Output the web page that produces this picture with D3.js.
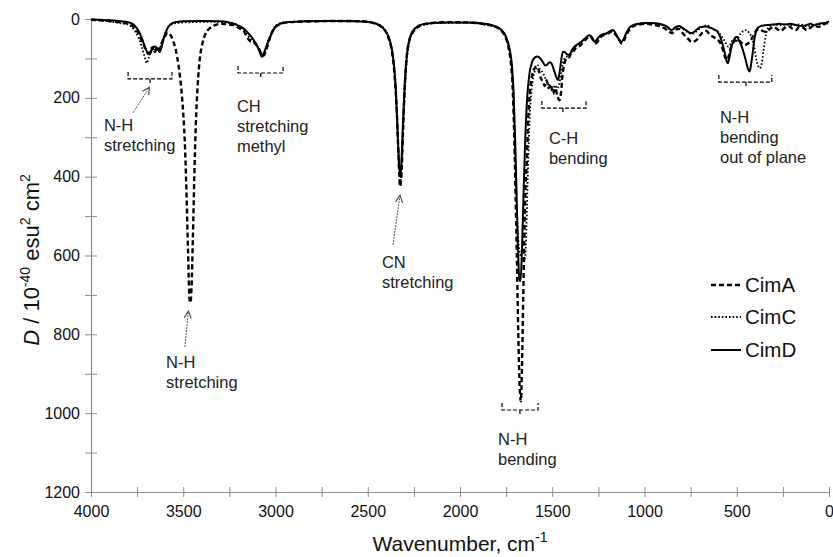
<!DOCTYPE html>
<html>
<head>
<meta charset="utf-8">
<script src="https://cdn.jsdelivr.net/npm/d3@7"></script>
<style>
  body { margin: 0; background: #fff; }
  svg { font-family: "Liberation Sans", Arial, sans-serif; }
</style>
</head>
<body>
<script>
/* Data: [wavenumber (cm-1), D (10^-40 esu^2 cm^2)] */
const cimA = [[4000,2],[3950,3],[3900,5],[3850,8],[3800,12],[3770,20],[3745,35],[3725,55],[3705,75],[3690,88],[3678,80],[3668,72],[3655,85],[3642,70],[3630,78],[3618,62],[3600,45],[3585,35],[3570,40],[3555,55],[3540,80],[3525,120],[3510,180],[3500,240],[3490,330],[3482,450],[3474,590],[3466,710],[3461,720],[3455,680],[3448,560],[3440,400],[3432,270],[3422,170],[3410,100],[3395,60],[3380,38],[3360,25],[3330,16],[3290,12],[3250,14],[3215,18],[3190,25],[3170,32],[3155,45],[3140,55],[3120,58],[3105,65],[3090,75],[3075,90],[3065,93],[3050,78],[3035,55],[3020,35],[3000,20],[2970,12],[2920,8],[2800,6],[2650,5],[2520,6],[2460,12],[2420,22],[2390,45],[2370,80],[2355,140],[2342,240],[2333,350],[2325,425],[2318,400],[2310,300],[2300,180],[2290,100],[2275,55],[2250,30],[2210,16],[2150,10],[2050,8],[1950,9],[1880,12],[1820,18],[1780,28],[1755,45],[1738,70],[1725,110],[1715,170],[1707,280],[1700,420],[1692,600],[1684,800],[1676,940],[1670,970],[1664,880],[1657,700],[1650,520],[1644,420],[1638,360],[1630,250],[1620,180],[1608,140],[1595,125],[1585,120],[1575,128],[1562,150],[1550,160],[1540,170],[1530,155],[1520,175],[1508,165],[1496,190],[1484,175],[1472,195],[1462,206],[1452,185],[1444,140],[1435,115],[1422,100],[1410,98],[1398,88],[1385,82],[1370,72],[1350,68],[1330,58],[1310,48],[1295,44],[1280,52],[1265,62],[1250,55],[1235,45],[1215,40],[1195,36],[1175,32],[1160,38],[1140,50],[1125,62],[1112,55],[1095,38],[1078,25],[1060,18],[1030,14],[1000,12],[960,14],[920,18],[890,24],[865,33],[850,36],[835,28],[815,25],[795,35],[775,45],[760,52],[745,58],[730,57],[715,52],[700,42],[685,34],[665,30],[645,40],[625,46],[605,52],[590,60],[575,78],[562,98],[552,104],[542,92],[530,70],[515,58],[500,52],[485,56],[470,62],[455,66],[440,62],[425,55],[410,42],[395,30],[380,26],[360,30],[340,33],[320,25],[300,20],[280,26],[260,30],[240,22],[220,18],[200,24],[180,28],[160,20],[140,22],[120,28],[100,22],[80,16],[60,20],[40,18],[20,12],[0,10]];

const cimC = [[4000,2],[3950,4],[3900,6],[3850,10],[3800,14],[3770,25],[3745,45],[3725,70],[3710,95],[3698,112],[3688,100],[3678,82],[3668,74],[3655,84],[3642,72],[3630,80],[3618,62],[3600,38],[3585,22],[3565,14],[3530,10],[3450,8],[3350,7],[3250,10],[3210,14],[3185,22],[3165,30],[3145,45],[3125,55],[3105,62],[3088,78],[3072,92],[3058,80],[3040,56],[3022,35],[3000,18],[2970,10],[2900,7],[2750,5],[2600,5],[2500,7],[2450,12],[2410,25],[2385,50],[2365,90],[2350,160],[2340,260],[2332,360],[2324,412],[2316,380],[2308,280],[2298,170],[2285,90],[2270,50],[2245,28],[2200,15],[2100,10],[1950,10],[1870,14],[1810,20],[1775,30],[1750,48],[1735,75],[1722,115],[1712,190],[1703,320],[1694,460],[1684,560],[1672,600],[1660,610],[1650,615],[1642,560],[1634,420],[1625,280],[1614,190],[1602,145],[1590,128],[1578,118],[1566,128],[1552,135],[1538,150],[1524,165],[1510,172],[1497,180],[1485,168],[1474,176],[1464,168],[1452,140],[1442,112],[1430,98],[1418,95],[1405,90],[1390,80],[1375,70],[1355,64],[1335,56],[1315,46],[1298,42],[1282,50],[1268,58],[1252,50],[1235,42],[1210,38],[1190,34],[1172,30],[1155,40],[1138,52],[1124,58],[1110,48],[1092,30],[1075,20],[1055,14],[1020,11],[980,11],[930,13],[890,18],[865,26],[850,30],[835,22],[810,20],[785,28],[765,34],[745,38],[725,34],[705,26],[685,20],[660,16],[640,22],[620,28],[600,32],[585,42],[570,52],[558,62],[545,70],[532,62],[518,52],[505,58],[492,48],[478,36],[462,30],[448,28],[432,36],[418,48],[405,72],[395,100],[385,118],[377,125],[370,122],[364,112],[355,80],[345,48],[335,28],[320,18],[300,14],[270,16],[240,14],[200,16],[160,14],[120,18],[80,14],[40,12],[0,8]];

const cimD = [[4000,1],[3950,2],[3900,3],[3850,5],[3800,8],[3770,14],[3745,28],[3725,48],[3708,70],[3695,84],[3685,90],[3676,86],[3666,72],[3652,70],[3640,76],[3628,84],[3618,72],[3605,48],[3590,28],[3572,15],[3550,9],[3500,6],[3400,5],[3300,6],[3240,10],[3205,16],[3180,22],[3160,30],[3140,40],[3120,52],[3100,68],[3085,85],[3074,96],[3064,88],[3050,70],[3035,52],[3020,36],[3000,20],[2975,12],[2940,8],[2850,6],[2700,5],[2560,6],[2480,9],[2440,15],[2405,30],[2380,55],[2362,100],[2348,180],[2338,290],[2330,370],[2323,400],[2316,350],[2308,250],[2298,150],[2285,80],[2268,42],[2240,22],[2200,13],[2100,9],[1950,9],[1870,12],[1810,18],[1775,28],[1750,45],[1733,72],[1720,110],[1710,180],[1702,290],[1694,430],[1686,580],[1678,660],[1672,665],[1665,600],[1656,450],[1646,300],[1636,200],[1624,140],[1610,110],[1595,98],[1580,95],[1565,100],[1550,110],[1538,118],[1528,116],[1515,110],[1505,112],[1492,128],[1480,145],[1469,155],[1460,135],[1450,100],[1442,83],[1432,84],[1420,90],[1406,91],[1395,80],[1380,70],[1362,64],[1342,58],[1320,48],[1300,41],[1285,46],[1270,58],[1258,52],[1240,42],[1220,38],[1205,36],[1185,30],[1170,28],[1155,38],[1138,52],[1125,58],[1112,50],[1095,32],[1078,20],[1060,15],[1030,12],[1000,10],[960,10],[920,12],[890,16],[870,22],[855,28],[845,26],[830,20],[810,18],[790,24],[770,30],[750,36],[735,34],[715,26],[695,20],[665,19],[645,22],[625,26],[605,32],[590,45],[578,62],[568,80],[560,96],[553,110],[548,112],[541,100],[532,78],[522,60],[510,48],[500,45],[490,52],[478,64],[466,80],[455,98],[446,115],[438,128],[432,133],[426,126],[420,108],[412,80],[404,50],[396,32],[385,22],[370,18],[350,16],[330,15],[300,14],[270,12],[240,14],[210,12],[180,15],[150,18],[120,15],[100,12],[80,16],[60,13],[40,11],[20,10],[0,6]];

const seriesNames = ["CimA", "CimC", "CimD"];
const xTicks = [4000, 3500, 3000, 2500, 2000, 1500, 1000, 500, 0];
const yTicks = [0, 200, 400, 600, 800, 1000, 1200];

/* Annotations, placed in data units (wavenumber, D) */
const brackets = [
  { w1: 3799, w2: 3561, mid: 3680, d: 152 },
  { w1: 3203, w2: 2959, mid: 3080, d: 137 },
  { w1: 1772, w2: 1577, mid: 1675, d: 992 },
  { w1: 1556, w2: 1317, mid: 1442, d: 226 },
  { w1: 597, w2: 310, mid: 450, d: 160 }
];
const labels = [
  { w: 3930, d: 284, lines: ["N-H", "stretching"] },
  { w: 3209, d: 236, lines: ["CH", "stretching", "methyl"] },
  { w: 3593, d: 885, lines: ["N-H", "stretching"] },
  { w: 2423, d: 632, lines: ["CN", "stretching"] },
  { w: 1794, d: 1081, lines: ["N-H", "bending"] },
  { w: 1518, d: 317, lines: ["C-H", "bending"] },
  { w: 591, d: 264, lines: ["N-H", "bending", "out of plane"] }
];
const arrows = [
  { w0: 3772, d0: 238, w1: 3683, d1: 173 },
  { w0: 3491, d0: 832, w1: 3472, d1: 741 },
  { w0: 2363, d0: 573, w1: 2325, d1: 447 }
];

/* Constants */
const w = 833;
const h = 557;
const padL = 91, padR = 829, padT = 19, padB = 492;

const svg = d3.select("body").append("svg")
  .attr("width", w)
  .attr("height", h);

const xScale = d3.scaleLinear().domain([4000, 0]).range([padL, padR]);
const yScale = d3.scaleLinear().domain([0, 1200]).range([padT, padB]);

/* Axes */
const xAxis = d3.axisBottom(xScale).tickValues(d3.range(4000, -1, -250))
  .tickFormat(d => xTicks.includes(d) ? d : "").tickSize(0).tickPadding(14);
const yAxis = d3.axisLeft(yScale).tickValues(d3.range(0, 1201, 100))
  .tickFormat(d => yTicks.includes(d) ? d : "").tickSize(0).tickPadding(11);

const gx = svg.append("g").attr("transform", "translate(0," + padB + ")").call(xAxis);
const gy = svg.append("g").attr("transform", "translate(" + padL + ",0)").call(yAxis);

[gx, gy].forEach(g => {
  g.select(".domain").attr("stroke", "#8c8c8c").attr("stroke-width", 1.2);
  g.selectAll(".tick text").attr("font-size", 16).attr("fill", "#111")
    .attr("font-family", "Liberation Sans, Arial, sans-serif");
  g.selectAll(".tick line").attr("stroke", "#8c8c8c");
});
gx.selectAll(".tick line").attr("y1", -5).attr("y2", 5);
gy.selectAll(".tick line").attr("x1", -6).attr("x2", 6);

/* Axis titles */
svg.append("text")
  .attr("x", (padL + padR) / 2)
  .attr("y", 551)
  .attr("text-anchor", "middle")
  .attr("font-size", 21)
  .attr("fill", "#111")
  .call(t => {
    t.append("tspan").text("Wavenumber, cm");
    t.append("tspan").attr("dy", -9).attr("font-size", 14).text("-1");
  });

svg.append("text")
  .attr("transform", "translate(39," + 260 + ") rotate(-90)")
  .attr("text-anchor", "middle")
  .attr("font-size", 22)
  .attr("fill", "#111")
  .call(t => {
    t.append("tspan").attr("font-style", "italic").text("D");
    t.append("tspan").text(" / 10");
    t.append("tspan").attr("dy", -9).attr("font-size", 14).text("-40");
    t.append("tspan").attr("dy", 9).text(" esu");
    t.append("tspan").attr("dy", -9).attr("font-size", 14).text("2");
    t.append("tspan").attr("dy", 9).text(" cm");
    t.append("tspan").attr("dy", -9).attr("font-size", 14).text("2");
  });

/* Lines */
const line = d3.line()
  .x(d => xScale(d[0]))
  .y(d => yScale(d[1]))
  .curve(d3.curveMonotoneX);

const styles = {
  CimA: { dash: "5,3", width: 2.4 },
  CimC: { dash: "1.6,2", width: 1.8 },
  CimD: { dash: null, width: 2 }
};
const allData = { CimA: cimA, CimC: cimC, CimD: cimD };

seriesNames.forEach(name => {
  svg.append("path")
    .datum(allData[name])
    .attr("d", line)
    .attr("fill", "none")
    .attr("stroke", "#000")
    .attr("stroke-width", styles[name].width)
    .attr("stroke-dasharray", styles[name].dash);
});

/* Brackets */
brackets.forEach(b => {
  const x1 = xScale(b.w1), x2 = xScale(b.w2), xm = xScale(b.mid), y = yScale(b.d);
  svg.append("path")
    .attr("d", "M" + x1 + "," + (y - 7) + "V" + y + "H" + x2 + "V" + (y - 7) +
      "M" + xm + "," + y + "v6")
    .attr("fill", "none")
    .attr("stroke", "#000")
    .attr("stroke-width", 1.2)
    .attr("stroke-dasharray", "4,2");
});

/* Arrows */
svg.append("defs").append("marker")
  .attr("id", "head")
  .attr("viewBox", "0 0 10 10")
  .attr("refX", 9).attr("refY", 5)
  .attr("markerWidth", 9).attr("markerHeight", 9)
  .attr("markerUnits", "userSpaceOnUse")
  .attr("orient", "auto")
  .append("path")
  .attr("d", "M1,1L9,5L1,9")
  .attr("fill", "none")
  .attr("stroke", "#444")
  .attr("stroke-width", 1.2);

arrows.forEach(a => {
  svg.append("line")
    .attr("x1", xScale(a.w0)).attr("y1", yScale(a.d0))
    .attr("x2", xScale(a.w1)).attr("y2", yScale(a.d1))
    .attr("stroke", "#555")
    .attr("stroke-width", 1)
    .attr("stroke-dasharray", "2,1")
    .attr("marker-end", "url(#head)");
});

/* Labels */
labels.forEach(l => {
  const t = svg.append("text")
    .attr("x", xScale(l.w))
    .attr("y", yScale(l.d))
    .attr("font-size", 16.5)
    .attr("fill", "#222");
  l.lines.forEach((s, i) => {
    t.append("tspan").attr("x", xScale(l.w)).attr("dy", i === 0 ? 0 : 20).text(s);
  });
});

/* Legend */
const legend = svg.append("g").attr("transform", "translate(711,285)");
seriesNames.forEach((name, i) => {
  const g = legend.append("g").attr("transform", "translate(0," + [0, 32, 65][i] + ")");
  g.append("line")
    .attr("x1", 0).attr("x2", 30)
    .attr("stroke", "#000")
    .attr("stroke-width", styles[name].width)
    .attr("stroke-dasharray", styles[name].dash);
  g.append("text")
    .attr("x", 34).attr("y", 7)
    .attr("font-size", 20.5)
    .attr("fill", "#111")
    .text(name);
});
</script>
</body>
</html>
